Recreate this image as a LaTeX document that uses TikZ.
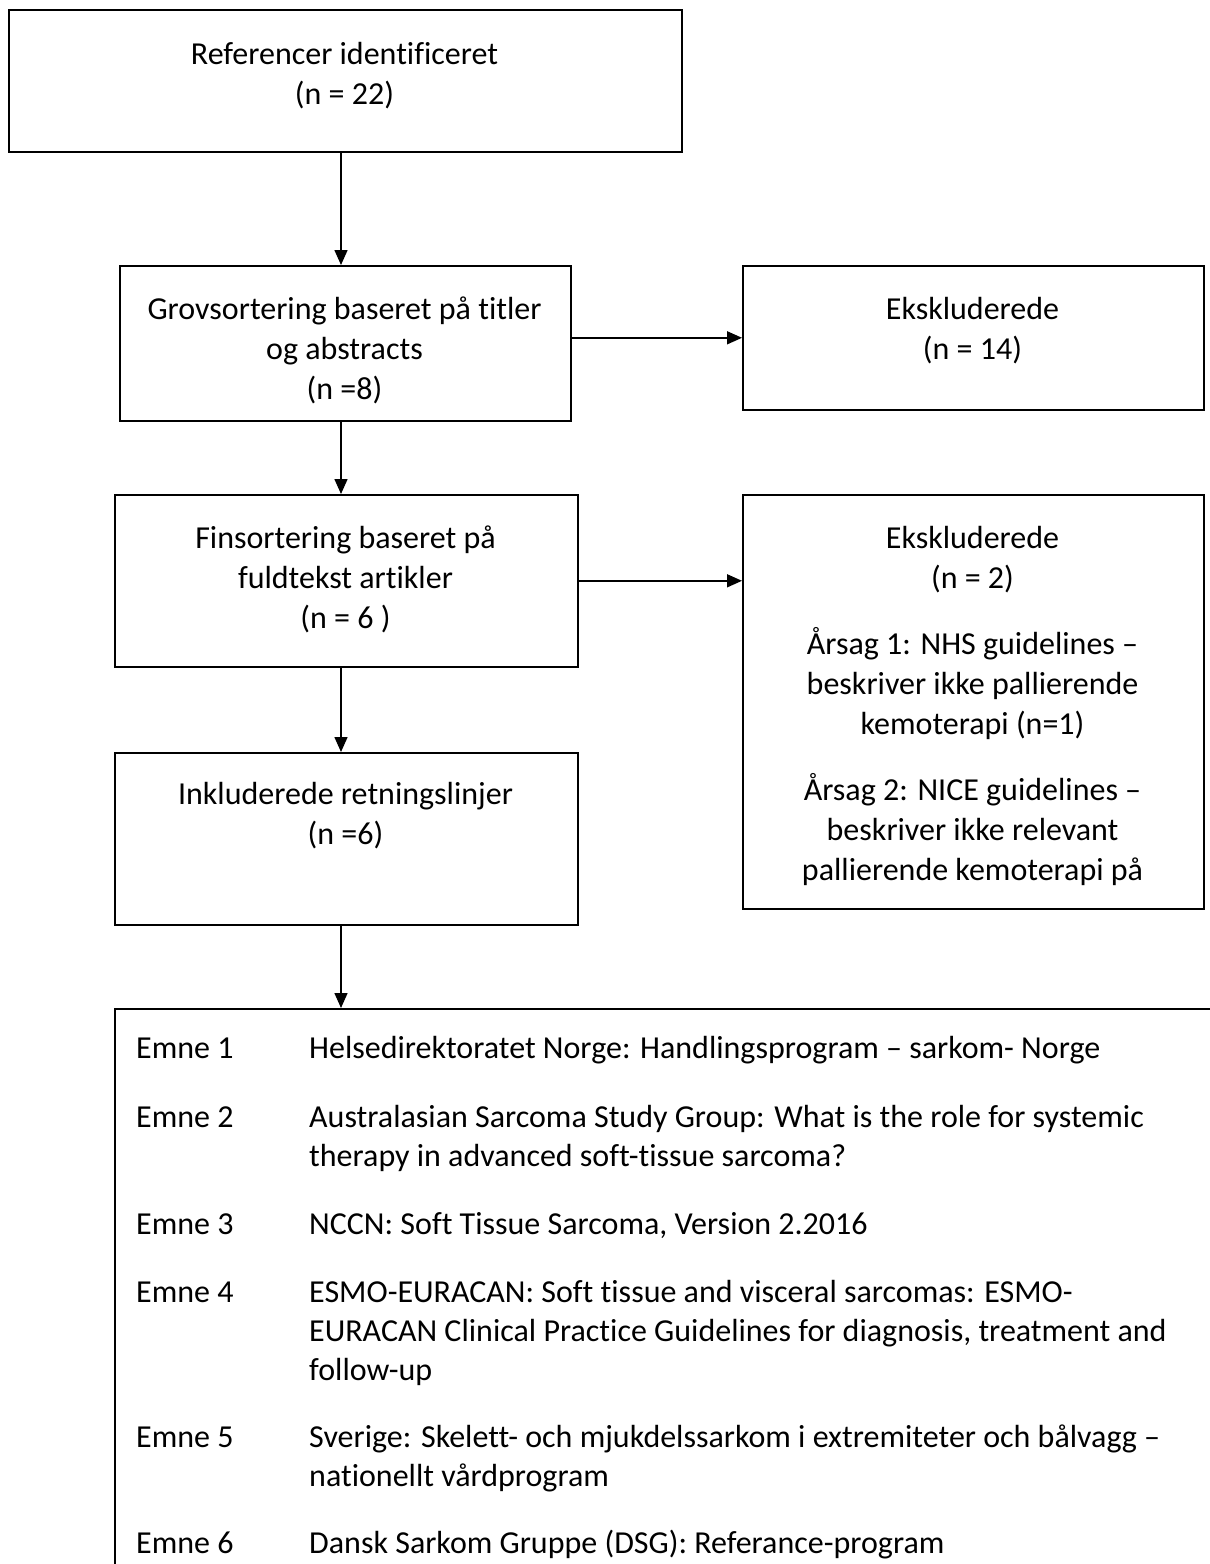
\documentclass[tikz,border=0pt]{standalone}
\usepackage{fontspec}
\setmainfont{Carlito}[Ligatures={NoCommon,NoRequired,NoContextual}]
\usetikzlibrary{arrows.meta}
\tikzset{
  box/.style={draw, line width=1.6pt, rectangle, inner sep=0pt, anchor=north west},
  txt/.style={inner sep=0pt, align=center, anchor=north, font=\fontsize{32}{40}\selectfont},
  ltxt/.style={inner sep=0pt, align=left, anchor=north west, font=\fontsize{32}{39}\selectfont},
  arr/.style={line width=1.5pt, -{Triangle[length=15pt,width=13pt]}}
}
\begin{document}
\begin{tikzpicture}[x=1pt,y=-1pt]
\useasboundingbox (0,0) rectangle (1210,1564);
\clip (0,0) rectangle (1210,1564);
\fill[white] (0,0) rectangle (1210,1564);
\coordinate (ax) at (341,0);
% boxes
\node[box, minimum width=673pt, minimum height=142pt] (top) at (8,9) {};
\node[box, minimum width=451pt, minimum height=155pt] (grov) at (119,265) {};
\node[box, minimum width=461pt, minimum height=144pt] (eks1) at (742,265) {};
\node[box, minimum width=463pt, minimum height=172pt] (fin) at (114,494) {};
\node[box, minimum width=461pt, minimum height=414pt] (eks2) at (742,494) {};
\node[box, minimum width=463pt, minimum height=172pt] (inkl) at (114,752) {};
\node[box, minimum width=1200pt, minimum height=700pt] (list) at (114,1008) {};
% box texts
\node[txt] (ttop) at (344.5,36) {\strut Referencer identificeret\\(n = 22)};
\node[txt] (tgrov) at (344.5,291) {\strut Grovsortering baseret på titler\\og abstracts\\(n =8)};
\node[txt] (teks1) at (972.5,291) {\strut Ekskluderede\\(n = 14)};
\node[txt] (tfin) at (345.5,520) {\strut Finsortering baseret på\\fuldtekst artikler\\(n = 6 )};
\node[txt] (teks2) at (972.5,520) {\strut Ekskluderede\\(n = 2)\\[26pt]Årsag 1: NHS guidelines –\\beskriver ikke pallierende\\kemoterapi (n=1)\\[26pt]Årsag 2: NICE guidelines –\\beskriver ikke relevant\\pallierende kemoterapi på};
\node[txt] (tinkl) at (345.5,776) {\strut Inkluderede retningslinjer\\(n =6)};
% connectors
\draw[arr] (top.south -| ax) -- (grov.north -| ax);
\draw[arr] (grov.south -| ax) -- (fin.north -| ax);
\draw[arr] (fin.south -| ax) -- (inkl.north -| ax);
\draw[arr] (inkl.south -| ax) -- (list.north -| ax);
\draw[arr] (eks1.west -| grov.east) -- (eks1.west);
\draw[arr] (fin.east) -- (fin.east -| eks2.west);
% list
\node[ltxt] (e1) at (136,1031) {\strut Emne 1};
\node[ltxt] (d1) at (309,1031) {\strut Helsedirektoratet Norge: Handlingsprogram – sarkom- Norge};
\node[ltxt] (e2) at (136,1100) {\strut Emne 2};
\node[ltxt] (d2) at (309,1100) {\strut Australasian Sarcoma Study Group: What is the role for systemic\\therapy in advanced soft-tissue sarcoma?};
\node[ltxt] (e3) at (136,1207) {\strut Emne 3};
\node[ltxt] (d3) at (309,1207) {\strut NCCN: Soft Tissue Sarcoma, Version 2.2016};
\node[ltxt] (e4) at (136,1275) {\strut Emne 4};
\node[ltxt] (d4) at (309,1275) {\strut ESMO-EURACAN: Soft tissue and visceral sarcomas: ESMO-\\EURACAN Clinical Practice Guidelines for diagnosis, treatment and\\follow-up};
\node[ltxt] (e5) at (136,1420) {\strut Emne 5};
\node[ltxt] (d5) at (309,1420) {\strut Sverige: Skelett- och mjukdelssarkom i extremiteter och bålvagg –\\nationellt vårdprogram};
\node[ltxt] (e6) at (136,1526) {\strut Emne 6};
\node[ltxt] (d6) at (309,1526) {\strut Dansk Sarkom Gruppe (DSG): Referance-program};
\end{tikzpicture}
\end{document}
